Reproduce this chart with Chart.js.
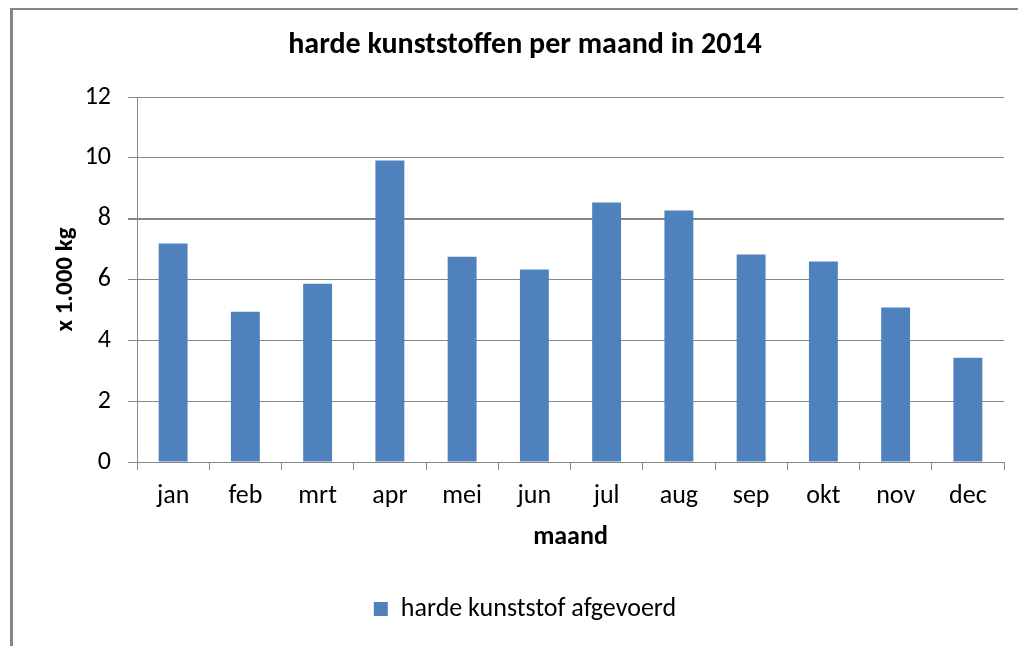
<!DOCTYPE html>
<html>
<head>
<meta charset="utf-8">
<script src="https://cdn.jsdelivr.net/npm/chart.js@4/dist/chart.umd.min.js"></script>
<style>
  html, body { margin: 0; padding: 0; background: #fff; }
  #wrap { width: 1018px; height: 646px; position: relative; }
</style>
</head>
<body>
<div id="wrap"><canvas id="c" width="1018" height="646"></canvas></div>
<script>
const categories = ['jan','feb','mrt','apr','mei','jun','jul','aug','sep','okt','nov','dec'];
const values = [7.18, 4.94, 5.86, 9.91, 6.75, 6.33, 8.53, 8.27, 6.82, 6.59, 5.08, 3.43];
const seriesName = 'harde kunststof afgevoerd';
const chartTitle = 'harde kunststoffen per maand in 2014';
const xTitle = 'maand';
const yTitle = 'x 1.000 kg';
const yMin = 0, yMax = 12, yStep = 2;

const FONT = "Carlito, Calibri, Lato, 'Noto Sans', sans-serif";
const GRID = '#868686';

const framePlugin = {
  id: 'frame',
  beforeDraw(chart) {
    const ctx = chart.ctx;
    ctx.save();
    ctx.fillStyle = '#ffffff';
    ctx.fillRect(0, 0, chart.width, chart.height);
    ctx.fillStyle = GRID;
    ctx.fillRect(10, 8, 3, chart.height - 8);
    ctx.fillRect(10, 8, chart.width - 10, 2);
    ctx.restore();
  }
};

new Chart(document.getElementById('c'), {
  type: 'bar',
  data: {
    labels: categories,
    datasets: [{
      label: seriesName,
      data: values,
      backgroundColor: '#4F81BD',
      borderWidth: 0,
      barPercentage: 0.4,
      categoryPercentage: 1.0
    }]
  },
  options: {
    responsive: false,
    animation: false,
    devicePixelRatio: 1,
    layout: { padding: { left: 46, right: 14, top: 0, bottom: 14 } },
    plugins: {
      title: {
        display: true,
        text: chartTitle,
        color: '#000',
        font: { family: FONT, size: 30, weight: 'bold' },
        padding: { top: 27, bottom: 34 }
      },
      legend: {
        display: true,
        position: 'bottom',
        labels: {
          color: '#000',
          font: { family: FONT, size: 26 },
          boxWidth: 14,
          boxHeight: 14,
          padding: 10
        }
      },
      tooltip: { enabled: false }
    },
    scales: {
      x: {
        grid: {
          display: true,
          drawOnChartArea: false,
          drawTicks: true,
          tickLength: 8,
          color: GRID,
          offset: true
        },
        border: { display: true, color: GRID, width: 1 },
        ticks: {
          color: '#000',
          font: { family: FONT, size: 26 },
          padding: 11,
          maxRotation: 0
        },
        title: {
          display: true,
          text: xTitle,
          color: '#000',
          font: { family: FONT, size: 26, weight: 'bold' },
          padding: { top: 0, bottom: 33 }
        },
        afterFit(s) { s.height = 124; }
      },
      y: {
        min: yMin,
        max: yMax,
        grid: {
          color: GRID,
          lineWidth: (c) => (c.tick && c.tick.value === 8 ? 2 : 1),
          drawTicks: true,
          tickLength: 9
        },
        border: { display: true, color: GRID, width: 1 },
        ticks: {
          stepSize: yStep,
          color: '#000',
          font: { family: FONT, size: 26 },
          padding: 17
        },
        title: {
          display: true,
          text: yTitle,
          color: '#000',
          font: { family: FONT, size: 25, weight: 'bold' },
          padding: { top: 5, bottom: 0 }
        },
        afterFit(s) { s.width = 91; }
      }
    }
  },
  plugins: [framePlugin]
});
</script>
</body>
</html>
